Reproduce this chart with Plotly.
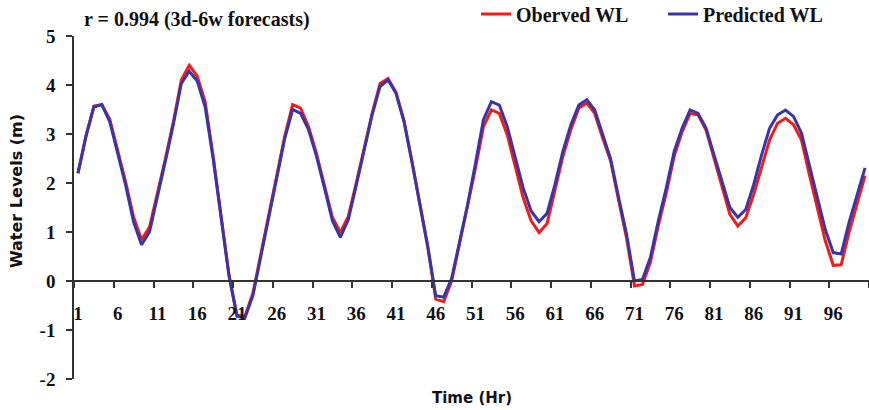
import plotly.graph_objects as go

hours = list(range(1, 101))

observed_wl = [
    2.2, 2.95, 3.57, 3.6, 3.3, 2.68, 2.02, 1.3, 0.84, 1.1,
    1.78, 2.5, 3.25, 4.1, 4.4, 4.18, 3.65, 2.55, 1.33, 0.12,
    -0.7, -0.72, -0.25, 0.55, 1.35, 2.15, 2.95, 3.6, 3.53, 3.15,
    2.6, 1.95, 1.3, 0.99, 1.32, 2.0, 2.7, 3.42, 4.03, 4.13,
    3.85, 3.28, 2.45, 1.6, 0.7, -0.37, -0.42, 0.0, 0.75, 1.5,
    2.3, 3.15, 3.49, 3.42, 2.98, 2.34, 1.7, 1.23, 0.99, 1.17,
    1.84, 2.55, 3.09, 3.53, 3.63, 3.42, 2.92, 2.45, 1.65, 0.88,
    -0.1, -0.07, 0.38, 1.13, 1.8, 2.55, 3.05, 3.42, 3.39, 3.08,
    2.51, 1.94, 1.36, 1.12, 1.29, 1.77, 2.31, 2.88, 3.22, 3.32,
    3.19, 2.88, 2.17, 1.5, 0.82, 0.32, 0.33, 1.0, 1.6, 2.15,
]

predicted_wl = [
    2.2, 2.95, 3.55, 3.6, 3.25, 2.6, 1.95, 1.2, 0.74, 1.0,
    1.7, 2.45, 3.2, 4.03, 4.28, 4.08, 3.55, 2.5, 1.3, 0.1,
    -0.72, -0.75, -0.3, 0.5, 1.3, 2.1, 2.9, 3.5, 3.42, 3.09,
    2.55, 1.9, 1.23, 0.89, 1.25, 1.95, 2.65, 3.39, 3.97, 4.1,
    3.83, 3.26, 2.44, 1.58, 0.7, -0.3, -0.33, 0.05, 0.8, 1.55,
    2.4, 3.29, 3.66, 3.59, 3.15, 2.51, 1.9, 1.43, 1.21, 1.38,
    1.97, 2.65, 3.19, 3.59, 3.7, 3.49, 2.98, 2.49, 1.71, 0.96,
    0.0, 0.03, 0.48, 1.23, 1.9, 2.65, 3.12, 3.49, 3.42, 3.12,
    2.58, 2.04, 1.5, 1.3, 1.46, 1.97, 2.58, 3.12, 3.39, 3.49,
    3.36, 3.02, 2.38, 1.7, 1.05, 0.58, 0.55, 1.2, 1.75, 2.31,
]

y_ticks = [-2, -1, 0, 1, 2, 3, 4, 5]
y_tick_labels = ["-2", "-1", "0", "1", "2", "3", "4", "5"]

serif = "Liberation Serif"
sans = "DejaVu Sans"

fig = go.Figure()
fig.add_trace(go.Scatter(
    x=[str(h) for h in hours], y=observed_wl, mode="lines", name="<b>Oberved WL</b>",
    line=dict(color="#f01c1c", width=3),
))
fig.add_trace(go.Scatter(
    x=[str(h) for h in hours], y=predicted_wl, mode="lines", name="<b>Predicted WL</b>",
    line=dict(color="#3b34a8", width=3),
))

fig.update_layout(
    width=869, height=410,
    margin=dict(l=74, r=0, t=36, b=31, autoexpand=False),
    plot_bgcolor="white", paper_bgcolor="white",
    showlegend=True,
    legend=dict(
        orientation="h", x=(476 - 74) / 795, xanchor="left", y=1.064, yanchor="middle",
        font=dict(family=serif, size=20, color="#111"),
        entrywidth=142, entrywidthmode="pixels",
        bgcolor="rgba(0,0,0,0)",
    ),
    xaxis=dict(
        type="category", range=[-0.5, 99.5],
        dtick=5, tick0=0, tickson="boundaries", tickangle=0,
        ticks="outside", ticklen=6, tickwidth=1.5, tickcolor="#333",
        ticklabelstandoff=15,
        showline=True, linecolor="#333", linewidth=1.5,
        showgrid=False, zeroline=False, automargin=False,
        anchor="free", position=2 / 7,
        tickfont=dict(family=serif, size=19, color="#111", weight="bold"),
    ),
    yaxis=dict(
        range=[-2, 5], tickmode="array", tickvals=y_ticks, ticktext=y_tick_labels,
        ticks="outside", ticklen=6, tickwidth=1.5, tickcolor="#333",
        ticklabelstandoff=7,
        showline=True, linecolor="#333", linewidth=1.5,
        showgrid=False, zeroline=False, automargin=False,
        tickfont=dict(family=serif, size=19, color="#111", weight="bold"),
    ),
    annotations=[
        dict(text="<b>r = 0.994 (3d-6w forecasts)</b>", xref="paper", yref="paper",
             x=(82 - 74) / 795, y=(379 - 19) / 343, xanchor="left", yanchor="middle", showarrow=False,
             font=dict(family=serif, size=20, color="#111")),
        dict(text="<b>Time (Hr)</b>", xref="paper", yref="paper",
             x=(472 - 74) / 795, y=(379 - 398) / 343, xanchor="center", yanchor="middle",
             showarrow=False, font=dict(family=sans, size=15, color="#111")),
        dict(text="<b>Water Levels (m)</b>", xref="paper", yref="paper",
             x=(16 - 74) / 795, y=(379 - 191) / 343, xanchor="center", yanchor="middle",
             textangle=-90, showarrow=False, font=dict(family=sans, size=16, color="#111")),
    ],
)

fig.write_html("out.html")
